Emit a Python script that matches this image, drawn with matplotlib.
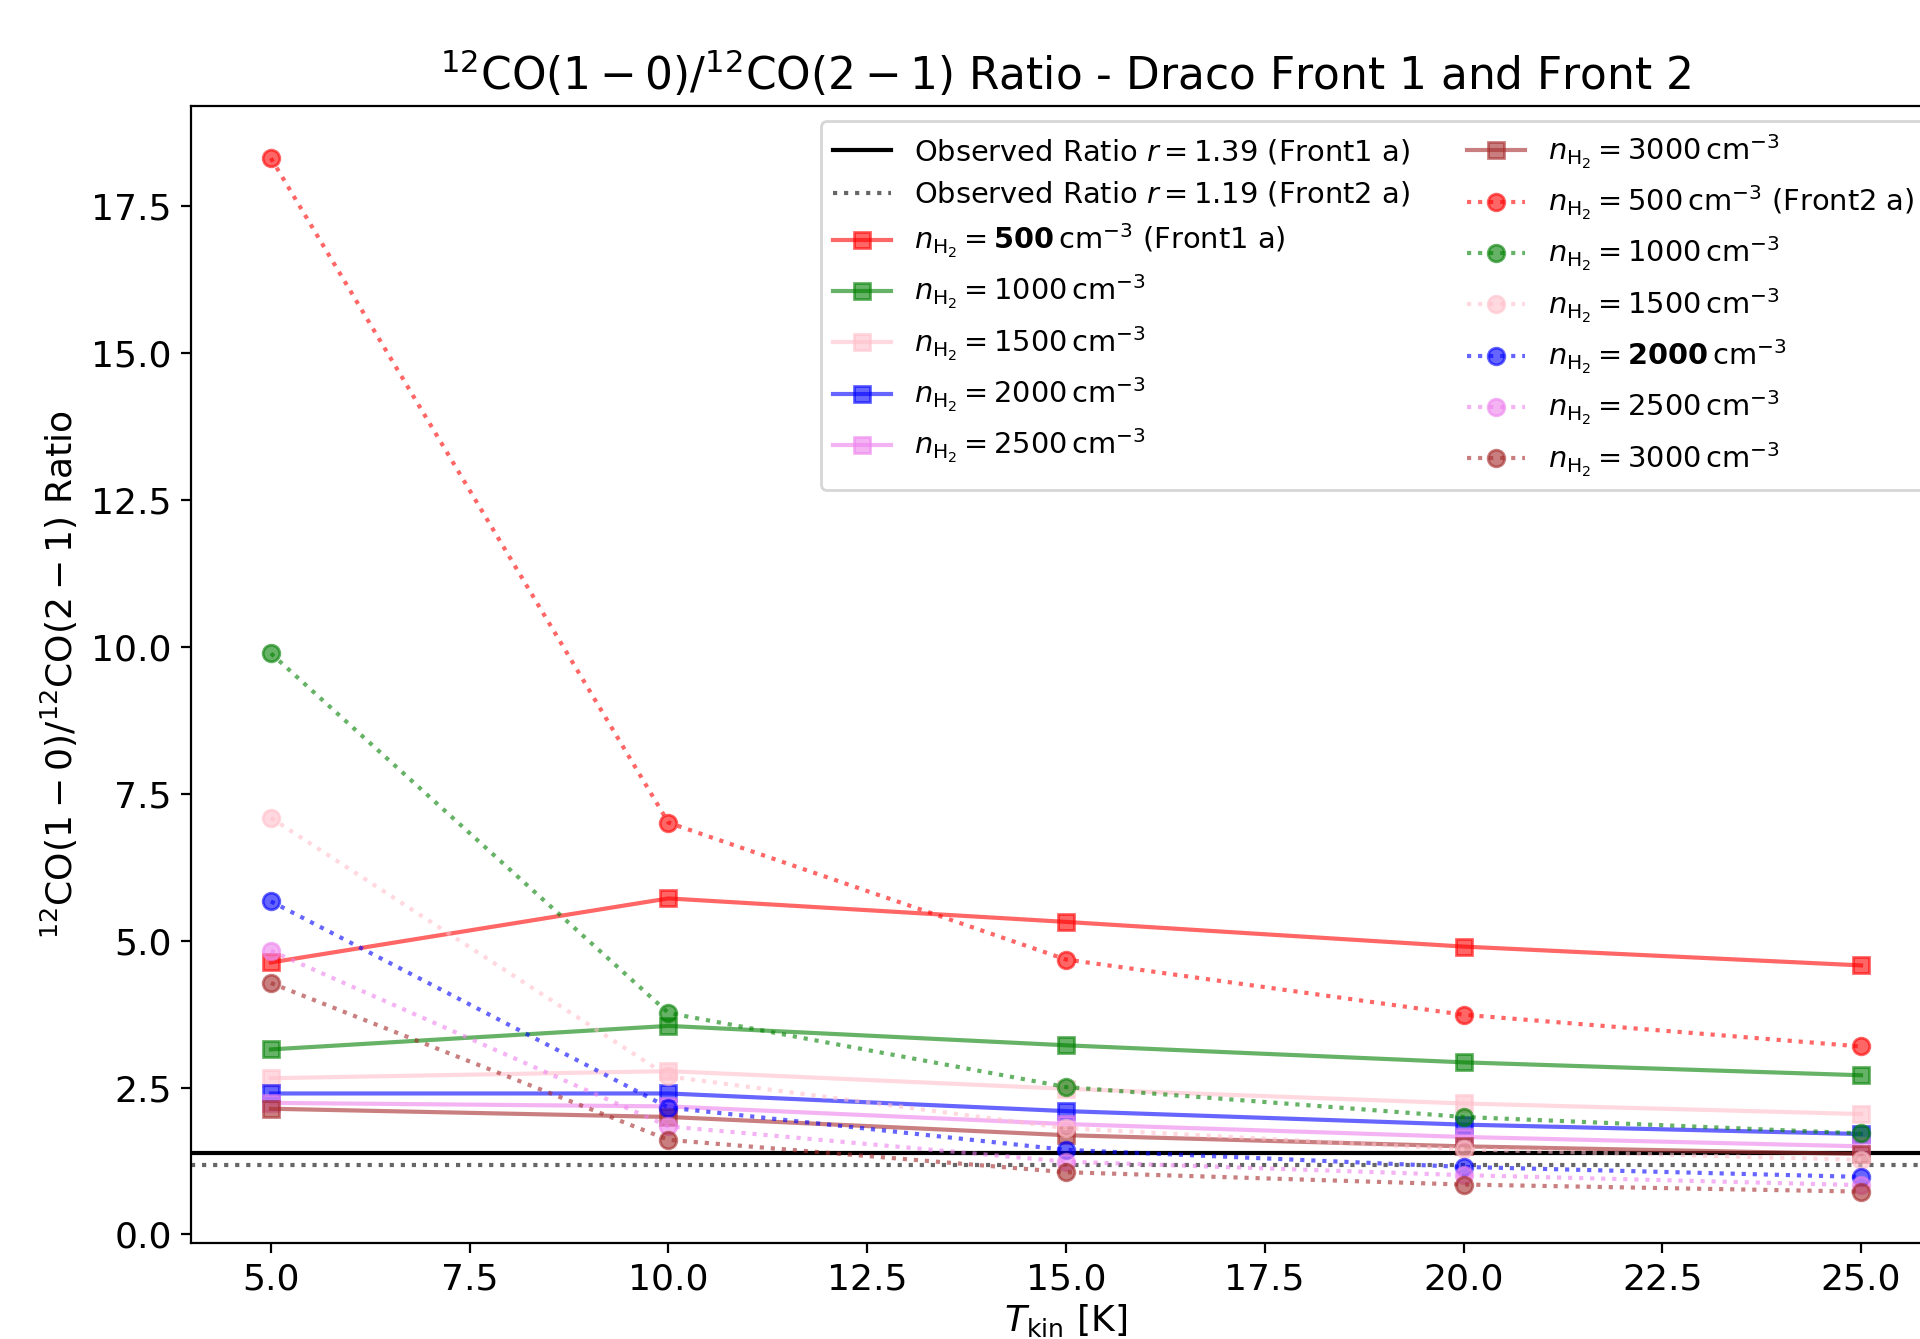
import numpy as np
import matplotlib
matplotlib.use('Agg')
from matplotlib import pyplot as plt

# Kinetic temperature grid [K]
t_kin = [5, 10, 15, 20, 25]
densities = [500, 1000, 1500, 2000, 2500, 3000]
colors = ['red', 'green', 'pink', 'blue', 'violet', 'brown']

# Front 1 model ratios (solid, squares)
front1_500 = [4.63, 5.72, 5.32, 4.90, 4.58]
front1_1000 = [3.15, 3.55, 3.22, 2.93, 2.71]
front1_1500 = [2.66, 2.78, 2.48, 2.23, 2.05]
front1_2000 = [2.40, 2.40, 2.10, 1.87, 1.71]
front1_2500 = [2.24, 2.18, 1.88, 1.66, 1.50]
front1_3000 = [2.14, 2.00, 1.69, 1.50, 1.37]

# Front 2 model ratios (dotted, circles)
front2_500 = [18.32, 7.01, 4.68, 3.74, 3.20]
front2_1000 = [9.89, 3.77, 2.51, 2.00, 1.72]
front2_1500 = [7.09, 2.69, 1.81, 1.45, 1.27]
front2_2000 = [5.67, 2.16, 1.44, 1.15, 0.98]
front2_2500 = [4.83, 1.84, 1.24, 1.01, 0.84]
front2_3000 = [4.28, 1.61, 1.06, 0.85, 0.73]

# Observed ratios
obs_front1 = 1.39
obs_front2 = 1.19

front1 = [front1_500, front1_1000, front1_1500, front1_2000, front1_2500, front1_3000]
front2 = [front2_500, front2_1000, front2_1500, front2_2000, front2_2500, front2_3000]
best_front1 = 500
best_front2 = 2000


def density_label(n, best, suffix=''):
    """
    Nhãn mật độ, in đậm giá trị khớp nhất.
    """
    if n == best:
        val = r'\mathbf{%d}' % n
    else:
        val = r'%d' % n
    return r'$n_{\mathrm{H_2}} = ' + val + r'\,\mathrm{cm^{-3}}$' + suffix


fig = plt.figure(figsize=(9.6, 6.695), dpi=200)
ax = fig.add_axes([0.0997, 0.0715, 0.911, 0.849])

ax.axhline(obs_front1, color='k', ls='-', lw=1.5,
           label=r'Observed Ratio $r = %.2f$ (Front1 a)' % obs_front1)
ax.axhline(obs_front2, color='k', ls=':', lw=1.5, alpha=0.6,
           label=r'Observed Ratio $r = %.2f$ (Front2 a)' % obs_front2)

for n, c, vals in zip(densities, colors, front1):
    suffix = ' (Front1 a)' if n == best_front1 else ''
    ax.plot(t_kin, vals, '-s', color=c, alpha=0.6,
            label=density_label(n, best_front1, suffix))

for n, c, vals in zip(densities, colors, front2):
    suffix = ' (Front2 a)' if n == best_front1 else ''
    ax.plot(t_kin, vals, ':o', color=c, alpha=0.6,
            label=density_label(n, best_front2, suffix))

ax.tick_params(labelsize=13)
ax.set_xlabel(r'$T_{\mathrm{kin}}$ [K]', fontsize=13, labelpad=2)
ax.set_ylabel(r'$^{12}$CO$(1-0)$/$^{12}$CO$(2-1)$ Ratio', fontsize=13)
ax.set_title(r'$^{12}$CO$(1-0)$/$^{12}$CO$(2-1)$ Ratio - Draco Front 1 and Front 2',
             fontsize=15.8)
ax.legend(loc='upper right', ncol=2, fontsize=10.4, labelspacing=0.46)

plt.savefig('out.png', dpi=200)
